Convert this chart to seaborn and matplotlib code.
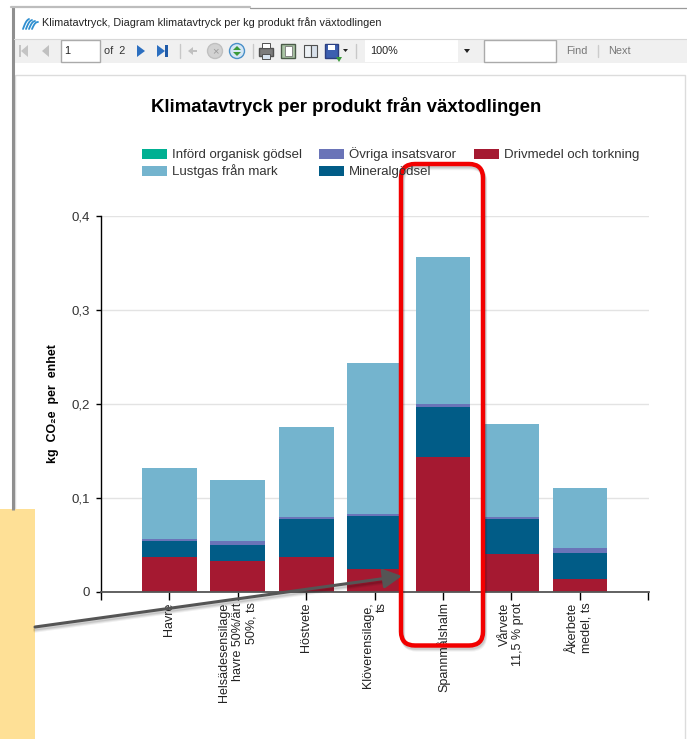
import numpy as np
import pandas as pd
import matplotlib
matplotlib.use("Agg")
import matplotlib.pyplot as plt
from matplotlib.patches import Rectangle, FancyBboxPatch, Polygon, Circle
import seaborn as sns

# values
products = ["Havre", "Helsädesensilage\nhavre 50%/ärt\n50%, ts", "Höstvete", "Klöverensilage,\nts",
            "Spannmålshalm", "Vårvete\n11,5 % prot", "Åkerbete\nmedel, ts"]
drivmedel = [0.037, 0.033, 0.037, 0.025, 0.144, 0.040, 0.014]
mineral = [0.017, 0.017, 0.041, 0.056, 0.053, 0.038, 0.027]
ovriga = [0.002, 0.004, 0.002, 0.002, 0.003, 0.002, 0.006]
lustgas = [0.076, 0.065, 0.096, 0.161, 0.156, 0.099, 0.064]
y_ticks = [0, 0.1, 0.2, 0.3, 0.4]
y_labels = ["0", "0,1", "0,2", "0,3", "0,4"]

series = [("Drivmedel och torkning", drivmedel, "#a51931"),
          ("Mineralgödsel", mineral, "#015c87"),
          ("Övriga insatsvaror", ovriga, "#6a74b8"),
          ("Lustgas från mark", lustgas, "#74b4ce")]

sns.set_theme(style="white")
plt.rcParams["font.family"] = ["Liberation Sans", "DejaVu Sans"]

W, H = 687, 739
fig = plt.figure(figsize=(W / 100, H / 100), dpi=100, facecolor="white")

# chart axes in the report window
ax = fig.add_axes([101 / W, 1 - 592 / H, 548 / W, 376 / H])
df = pd.DataFrame({"product": products})
bottom = np.zeros(len(products))
for name, vals, col in series:
    df["v"] = vals
    sns.barplot(data=df, x="product", y="v", color=col, bottom=bottom, width=0.8, saturation=1,
                edgecolor="none", linewidth=0, ax=ax, zorder=3)
    bottom = bottom + np.array(vals)

ax.set_xlim(-0.975, 7.01)
ax.set_ylim(0, 0.4)
ax.set_yticks(y_ticks)
ax.set_yticklabels(y_labels, fontsize=9.5, color="#333333")
ax.set_xticks(list(range(-1, 8)))
ax.set_xticklabels([""] + products + [""], rotation=90, fontsize=9, color="#222222", linespacing=1.2, ha="center", va="top")
for t in ax.get_xticklabels():
    t.set_multialignment("right")
ax.set_xlabel("")
ax.set_ylabel("")
ax.grid(axis="y", color="#e3e3e3", linewidth=1, zorder=0)
ax.set_axisbelow(True)
sns.despine(ax=ax, top=True, right=True)
ax.spines["left"].set_color("black")
ax.spines["left"].set_linewidth(1)
ax.spines["bottom"].set_color("#555555")
ax.spines["bottom"].set_linewidth(1.3)
ax.spines["bottom"].set_zorder(5)
ax.tick_params(axis="y", length=3.6, width=1, color="black", left=True, pad=4.4)
ax.tick_params(axis="x", length=5.5, width=1, color="black", bottom=True, pad=2)

# overlay in pixel coordinates: window chrome, legend, callouts
ov = fig.add_axes([0, 0, 1, 1], zorder=10)
ov.set_xlim(0, W)
ov.set_ylim(H, 0)
ov.axis("off")
ov.patch.set_alpha(0)

# window frame
ov.add_patch(Rectangle((14, 8), 680, 31, fc="white", ec="none"))
ov.add_patch(Rectangle((14, 39), 680, 24, fc="#f0f0f0", ec="none"))
ov.add_patch(Rectangle((15, 75), 670, 700, fc="none", ec="#dcdcdc", lw=1))
ov.plot([12.5, 12.5], [6, 510], color="#8f8f8f", lw=2.2, solid_capstyle="butt")
ov.plot([11, 250], [6.5, 6.5], color="#bdbdbd", lw=1.6)
ov.plot([250, 687], [7.5, 7.5], color="#9a9a9a", lw=0.9)
ov.plot([14, 687], [38.5, 38.5], color="#d8d8d8", lw=0.8)
ov.text(42, 23, "Klimatavtryck, Diagram klimatavtryck per kg produkt från växtodlingen", fontsize=7.85, va="center", color="#222222")

# logo
for i in range(4):
    s = np.linspace(0, 1, 12)
    ov.plot(23 + i * 3 + s * 6, 29 - s * (10 - i) - 2 * np.sin(s * np.pi), color="#2f8fd0", lw=1.3)

# toolbar
ov.add_patch(Rectangle((61, 40), 39, 22, fc="white", ec="#aaaaaa", lw=1))
ov.text(64, 51, "1", fontsize=7.85, va="center", color="#222222")
ov.text(104, 51, "of  2", fontsize=7.85, va="center", color="#333333")
ov.add_patch(Rectangle((19, 45), 2, 12, fc="#c4c4c4", ec="none"))
ov.add_patch(Polygon([[28, 45], [28, 57], [21, 51]], fc="#c4c4c4", ec="none"))
ov.add_patch(Polygon([[49, 45], [49, 57], [42, 51]], fc="#c0c0c0", ec="none"))
ov.add_patch(Polygon([[137, 45], [137, 57], [145, 51]], fc="#2c6fc0", ec="none"))
ov.add_patch(Polygon([[157, 45], [157, 57], [165, 51]], fc="#2c6fc0", ec="none"))
ov.add_patch(Rectangle((165, 45), 2.5, 12, fc="#1f5aa8", ec="none"))
ov.plot([180, 180], [44, 58], color="#c8c8c8", lw=1)
ov.add_patch(Polygon([[188, 51], [193, 47], [193, 50], [197, 50], [197, 52], [193, 52], [193, 55]], fc="#c0c0c0", ec="none"))
ov.add_patch(Circle((215, 51), 7.5, fc="#d2d2d2", ec="#c0c0c0"))
ov.text(215, 51, "×", fontsize=8, ha="center", va="center", color="#9a9a9a")
ov.add_patch(Circle((237, 51), 7.5, fc="#d5e6f5", ec="#4a90c8"))
ov.add_patch(Polygon([[237, 46], [241, 50], [233, 50]], fc="#3a9a3a", ec="none"))
ov.add_patch(Polygon([[237, 56], [241, 52], [233, 52]], fc="#3a9a3a", ec="none"))
ov.plot([253, 253], [44, 58], color="#c8c8c8", lw=1)
ov.add_patch(Rectangle((259, 48), 14, 8, fc="#7c7c7c", ec="#505050"))
ov.add_patch(Rectangle((262, 43), 8, 5, fc="white", ec="#505050", lw=0.7))
ov.add_patch(Rectangle((262, 54), 8, 5, fc="#d8e4f0", ec="#505050", lw=0.7))
ov.add_patch(Rectangle((281, 44), 14, 14, fc="#a9c4a4", ec="#4a5a48"))
ov.add_patch(Rectangle((285, 46), 7, 10, fc="white", ec="#777777", lw=0.6))
ov.add_patch(Rectangle((304, 45), 6.5, 12, fc="#eef2f6", ec="#505050", lw=0.8))
ov.add_patch(Rectangle((310.5, 45), 6.5, 12, fc="#d8e0ea", ec="#505050", lw=0.8))
ov.add_patch(Rectangle((325, 44), 13, 14, fc="#3c5fb0", ec="#2c3f80"))
ov.add_patch(Rectangle((328, 44.5), 7, 5, fc="white", ec="none"))
ov.add_patch(Polygon([[336, 57], [342, 57], [339, 62]], fc="#3a9a3a", ec="none"))
ov.add_patch(Polygon([[343, 49], [348, 49], [345.5, 52]], fc="#222222", ec="none"))
ov.plot([356, 356], [44, 58], color="#c8c8c8", lw=1)
ov.add_patch(Rectangle((365, 40), 93, 22, fc="white", ec="none"))
ov.add_patch(Rectangle((484, 40), 72, 22, fc="white", ec="#aaaaaa", lw=1))
ov.text(370, 51, "100%", fontsize=7.85, va="center", color="#222222")
ov.text(566, 51, "Find", fontsize=7.85, va="center", color="#777777")
ov.text(608, 51, "Next", fontsize=7.85, va="center", color="#777777")
ov.plot([598, 598], [45, 57], color="#cccccc", lw=1)
ov.add_patch(Polygon([[464, 49], [470, 49], [467, 53]], fc="#222222", ec="none"))

# title, legend, y label
ov.text(346.5, 107, "Klimatavtryck per produkt från växtodlingen", fontsize=13.4, fontweight="bold", ha="center", va="center", color="black")
ov.text(53, 404, "kg  CO₂e  per  enhet", fontsize=8.9, fontweight="bold", rotation=90, ha="center", va="center", color="black")
legend_items = [(142, 154, "#00b092", "Införd organisk gödsel"), (319, 154, "#6a74b8", "Övriga insatsvaror"),
                (474, 154, "#a51931", "Drivmedel och torkning"), (142, 171, "#74b4ce", "Lustgas från mark"),
                (319, 171, "#015c87", "Mineralgödsel")]
for x, y, c, label in legend_items:
    ov.add_patch(Rectangle((x, y - 5), 25, 10, fc=c, ec="none"))
    ov.text(x + 30, y + 4, label, fontsize=9.5, va="baseline", color="#333333")

# yellow note and arrow
ov.add_patch(Rectangle((0, 509), 35, 230, fc="#fee096", ec="none"))
for d, a in [(4, 0.06), (3, 0.08), (2, 0.1)]:
    ov.plot([35, 390], [627 + d, 578 + d], color="black", alpha=a, lw=2.4)
ov.annotate("", xy=(402, 576), xytext=(35, 627),
            arrowprops=dict(arrowstyle="-|>,head_length=0.8,head_width=0.42", mutation_scale=14, color="#555555", lw=2.2, shrinkA=0, shrinkB=0))

# red highlight box, soft shadow first
for d, a in [(4, 0.05), (3, 0.07), (2, 0.09)]:
    ov.add_patch(FancyBboxPatch((407 + d * 0.5, 170 + d), 70, 469.5, boxstyle="round,pad=6,rounding_size=14", fc="none", ec="black", alpha=a, lw=3.2))
ov.add_patch(FancyBboxPatch((407, 170), 70, 469.5, boxstyle="round,pad=6,rounding_size=14", fc="none", ec="#f20000", lw=3.2))

fig.savefig("out.png", dpi=100)
